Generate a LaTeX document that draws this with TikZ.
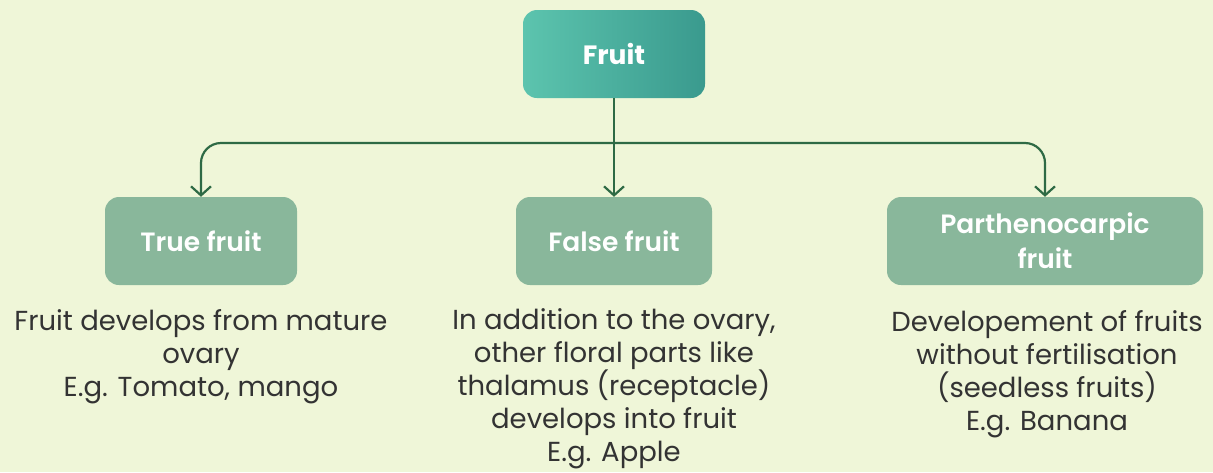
\documentclass[tikz,border=0pt]{standalone}
\usepackage{fontspec}
\setmainfont{Poppins}
\newfontfamily\semib{Poppins}[UprightFont=* SemiBold]
\usetikzlibrary{arrows.meta,shadings}
\definecolor{bg}{HTML}{EFF6D8}
\definecolor{boxg}{HTML}{89B79B}
\definecolor{tealL}{HTML}{5CC4AE}
\definecolor{tealR}{HTML}{3A9A8E}
\definecolor{linec}{HTML}{2E6A45}
\definecolor{txt}{HTML}{333333}
\tikzset{
  sub/.style={draw=none,fill=boxg,rounded corners=14pt,text=white,font=\fontsize{26.5}{35}\semib,align=center,minimum height=88pt},
  desc/.style={text=txt,font=\fontsize{27.5}{33.2}\selectfont,align=center,anchor=north,inner sep=0pt},
  conn/.style={draw=linec,line width=2.2pt,-{Straight Barb[length=9pt,width=20pt,line width=2.2pt]}}
}
\begin{document}
\begin{tikzpicture}[x=1pt,y=-1pt]
\fill[bg] (0,0) rectangle (1213,472);
\useasboundingbox (0,0) rectangle (1213,472);
\node[rounded corners=14pt,left color=tealL,right color=tealR,minimum width=182pt,minimum height=88pt,text=white,font=\fontsize{26.5}{30}\selectfont\bfseries] (root) at (614,54) {Fruit};
\node[sub,minimum width=192pt] (t) at (201,241) {True fruit};
\node[sub,minimum width=196pt] (f) at (614,241) {False fruit};
\node[sub,minimum width=316pt] (p) at (1045,241) {Parthenocarpic\\fruit};
\coordinate (j) at (614,143);
\draw[conn,rounded corners=20pt] (j) -| (t.north);
\draw[conn,rounded corners=20pt] (j) -| (p.north);
\draw[conn] (root.south) -- (f.north);
\node[desc] (td) at (201,309) {Fruit develops from mature\\ovary\\E.g. Tomato, mango};
\node[desc] (fd) at (614,308) {In addition to the ovary,\\other floral parts like\\thalamus (receptacle)\\develops into fruit\\E.g. Apple};
\node[desc] (pd) at (1047,310) {Developement of fruits\\without fertilisation\\(seedless fruits)\\E.g. Banana};
\end{tikzpicture}
\end{document}
